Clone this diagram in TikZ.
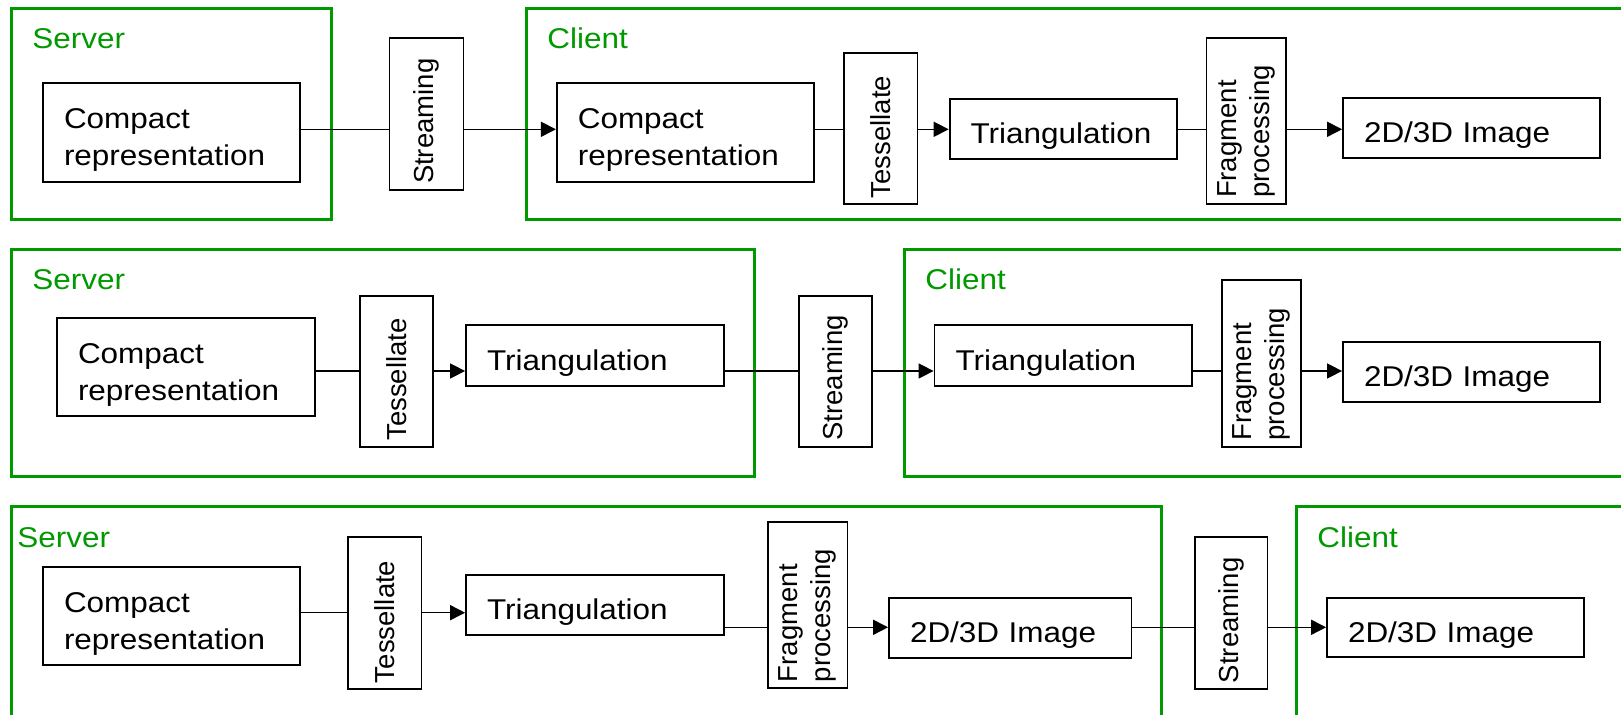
\documentclass[tikz,border=0pt]{standalone}
\usepackage{fontspec}
\setmainfont{Liberation Sans}
\newfontfamily\hfont{Liberation Sans}[FakeStretch=1.1]
\usetikzlibrary{arrows.meta}
\definecolor{grn}{RGB}{0,153,0}
\tikzset{
  hbox/.style={draw, line width=0.9pt, align=left, inner xsep=10.5pt, inner ysep=2pt,
    font=\hfont\fontsize{14.3pt}{18.5pt}\selectfont,
    execute at begin node={\rule{0pt}{17.5pt}}},
  vbox/.style={draw, line width=0.9pt, rotate=90, align=left, inner xsep=3pt, inner ysep=2pt,
    font=\fontsize{13.75pt}{16.5pt}\selectfont},
  grp/.style={draw=grn, line width=1.5pt},
  lbl/.style={text=grn, anchor=base west, inner sep=0pt,
    font=\hfont\fontsize{14.3pt}{18.5pt}\selectfont},
  ln/.style={line width=0.75pt},
  arr/.style={line width=0.75pt, -{Triangle[length=7.5pt,width=7.5pt]}},
}
\begin{document}
\begin{tikzpicture}[x=0.5pt,y=-0.5pt]
\path[use as bounding box] (0,0) rectangle (1621,715);
\clip (0,0) rectangle (1621,715);
% containers
\draw[grp] (11.8,8.5) rectangle (331,219.5);
\draw[grp] (526.4,8.5) rectangle (1650,219.5);
\draw[grp] (11.8,250) rectangle (754,477);
\draw[grp] (904.6,250) rectangle (1650,477);
\draw[grp] (11.8,506.7) rectangle (1161.8,740);
\draw[grp] (1296.4,506.7) rectangle (1650,740);
% labels
\node[lbl] (ls1) at (32,48.5) {Server};
\node[lbl] (lc1) at (547,48.5) {Client};
\node[lbl] (ls2) at (32,290) {Server};
\node[lbl] (lc2) at (925,290) {Client};
\node[lbl] (ls3) at (17,547) {Server};
\node[lbl] (lc3) at (1317,547) {Client};
% row 1
\node[hbox, text width=107.5pt, minimum height=49.2pt] (cmp1) at (171.5,132.5) {Compact\\representation};
\node[vbox, text width=69.85pt, minimum height=37pt] (str1) at (426.5,114.15) {Streaming};
\node[hbox, text width=107.6pt, minimum height=49.2pt] (cmp2) at (685.4,132.5) {Compact\\representation};
\node[vbox, text width=69.65pt, minimum height=36.75pt] (tes1) at (880.75,128.65) {Tessellate};
\node[hbox, text width=92.7pt, minimum height=30pt] (tri1) at (1063.3,129.3) {Triangulation};
\node[vbox, text width=76.85pt, minimum height=39.65pt] (frg1) at (1246.05,121.15) {Fragment\\processing};
\node[hbox, text width=107.5pt, minimum height=30pt] (img1) at (1471.5,128.3) {2D/3D Image};
% row 2
\node[hbox, text width=108pt, minimum height=49pt] (cmp3) at (186,367) {Compact\\representation};
\node[vbox, text width=69.5pt, minimum height=36.5pt] (tes2) at (396.5,371.2) {Tessellate};
\node[hbox, text width=107.8pt, minimum height=30.5pt] (tri2) at (594.8,355.5) {Triangulation};
\node[vbox, text width=69.5pt, minimum height=36.6pt] (str2) at (835.2,371.2) {Streaming};
\node[hbox, text width=107.75pt, minimum height=30.5pt] (tri3) at (1063.25,355.5) {Triangulation};
\node[vbox, text width=77.35pt, minimum height=39.5pt] (frg2) at (1261.5,363.35) {Fragment\\processing};
\node[hbox, text width=107.5pt, minimum height=30pt] (img2) at (1471.5,371.7) {2D/3D Image};
% row 3
\node[hbox, text width=107.5pt, minimum height=49pt] (cmp4) at (171.5,616) {Compact\\representation};
\node[vbox, text width=70.15pt, minimum height=36.7pt] (tes3) at (384.7,612.85) {Tessellate};
\node[hbox, text width=107.8pt, minimum height=30pt] (tri4) at (594.8,605) {Triangulation};
\node[vbox, text width=77.15pt, minimum height=39.75pt] (frg3) at (807.75,604.85) {Fragment\\processing};
\node[hbox, text width=100.2pt, minimum height=30pt] (img3) at (1010.2,628) {2D/3D Image};
\node[vbox, text width=70.15pt, minimum height=36.45pt] (str3) at (1231.05,612.85) {Streaming};
\node[hbox, text width=107.5pt, minimum height=29.8pt] (img4) at (1455.5,627.5) {2D/3D Image};
% connector levels
\coordinate (r1) at (0,129.3);
\coordinate (r2) at (0,371);
\coordinate (r3a) at (0,612.7);
\coordinate (r3b) at (0,627.3);
% row 1 connectors
\draw[ln] (cmp1.east |- r1) -- (str1.north |- r1);
\draw[arr] (str1.south |- r1) -- (cmp2.west |- r1);
\draw[ln] (cmp2.east |- r1) -- (tes1.north |- r1);
\draw[arr] (tes1.south |- r1) -- (tri1.west |- r1);
\draw[ln] (tri1.east |- r1) -- (frg1.north |- r1);
\draw[arr] (frg1.south |- r1) -- (img1.west |- r1);
% row 2 connectors
\draw[ln] (cmp3.east |- r2) -- (tes2.north |- r2);
\draw[arr] (tes2.south |- r2) -- (tri2.west |- r2);
\draw[ln] (tri2.east |- r2) -- (str2.north |- r2);
\draw[arr] (str2.south |- r2) -- (tri3.west |- r2);
\draw[ln] (tri3.east |- r2) -- (frg2.north |- r2);
\draw[arr] (frg2.south |- r2) -- (img2.west |- r2);
% row 3 connectors
\draw[ln] (cmp4.east |- r3a) -- (tes3.north |- r3a);
\draw[arr] (tes3.south |- r3a) -- (tri4.west |- r3a);
\draw[ln] (tri4.east |- r3b) -- (frg3.north |- r3b);
\draw[arr] (frg3.south |- r3b) -- (img3.west |- r3b);
\draw[ln] (img3.east |- r3b) -- (str3.north |- r3b);
\draw[arr] (str3.south |- r3b) -- (img4.west |- r3b);
\end{tikzpicture}
\end{document}
